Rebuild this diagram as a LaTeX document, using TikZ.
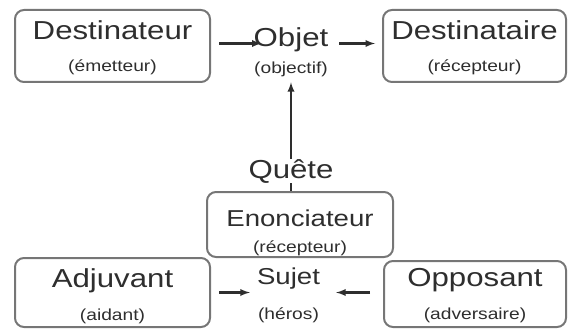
\documentclass[tikz,border=0pt]{standalone}
\usepackage{fontspec}
\setmainfont{Liberation Sans}[FakeStretch=1.2]
\usetikzlibrary{arrows}
\definecolor{inkgray}{HTML}{2E2E2E}
\definecolor{edgegray}{HTML}{767676}
\newcommand{\subtxt}[1]{{\fontsize{16}{16}\selectfont #1}}
\newcommand{\toppad}[1]{\rule{0pt}{#1}}
\tikzset{
    actant/.style={draw=edgegray, line width=2pt, rounded corners=9pt,
        align=center, text=inkgray, inner sep=0pt,
        font=\fontsize{26}{32}\selectfont},
    plain/.style={align=center, text=inkgray, inner sep=0pt,
        font=\fontsize{26}{27}\selectfont},
    link/.style={-latex, draw=inkgray, line width=2.2pt}
}

\begin{document}
\begin{tikzpicture}[x=1pt,y=-1pt]
    \useasboundingbox (0,0) rectangle (568,329);

    % top row
    \node[actant, minimum width=195, minimum height=72] (dest) at (112.5,46)
        {\toppad{23pt}Destinateur\\\subtxt{(émetteur)}};
    \node[plain] (objet) at (291,52.5) {Objet\\\subtxt{(objectif)}};
    \node[actant, minimum width=183, minimum height=72] (destaire) at (474.5,46)
        {\toppad{23pt}Destinataire\\\subtxt{(récepteur)}};

    % middle
    \node[plain] (quete) at (291,171) {Quête};
    \node[actant, minimum width=186, minimum height=65,
        font=\fontsize{23}{26}\selectfont] (enon) at (300,224.5)
        {\toppad{33pt}Enonciateur\\\subtxt{(récepteur)}};

    % bottom row
    \node[actant, minimum width=195, minimum height=69,
        font=\fontsize{26}{33}\selectfont] (adj) at (112.5,292.5)
        {\toppad{27pt}Adjuvant\\\subtxt{(aidant)}};
    \node[plain, font=\fontsize{23}{35}\selectfont] (sujet) at (288.5,295.7)
        {Sujet\\\subtxt{(héros)}};
    \node[actant, minimum width=182, minimum height=66,
        font=\fontsize{26}{33}\selectfont] (opp) at (475,294)
        {\toppad{21pt}Opposant\\\subtxt{(adversaire)}};

    % arrows
    \draw[link] ([xshift=8pt,yshift=2.5pt]dest.east)
        -- ([xshift=8pt,yshift=2.5pt]dest.east -| objet.west);
    \draw[link, shorten <=11pt, shorten >=7pt] ([yshift=2.5pt]objet.east |- destaire.west)
        -- ([yshift=2.5pt]destaire.west);
    \draw[link, shorten >=5pt] (quete.north) -- (objet.south -| quete.north);
    \draw[line width=2.2pt, draw=inkgray] (quete.south) -- (quete.south |- enon.north);
    \draw[link, shorten <=8pt, shorten >=7pt] (adj.east) -- (adj.east -| sujet.west);
    \draw[link, shorten <=13pt, shorten >=16pt] (opp.west |- adj.east)
        -- (sujet.east |- adj.east);
\end{tikzpicture}
\end{document}
